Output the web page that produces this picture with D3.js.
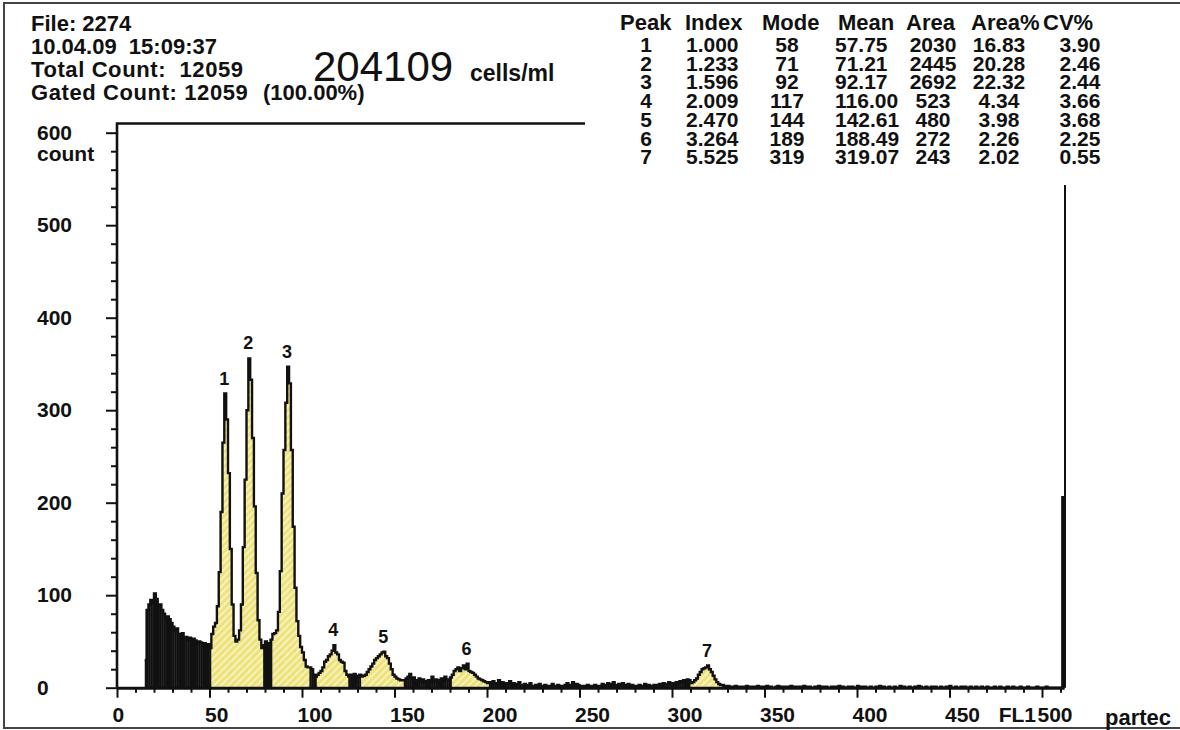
<!DOCTYPE html>
<html>
<head>
<meta charset="utf-8">
<script src="https://cdn.jsdelivr.net/npm/d3@7"></script>
<style>
  body { margin: 0; background: #fff; }
  text { font-family: "Liberation Sans", Arial, sans-serif; font-weight: bold; fill: #111; white-space: pre; }
</style>
</head>
<body>
<svg id="chart" width="1180" height="730"></svg>
<script>
// histogram counts per channel, starting at channel 15 (channels 0-14 are empty)
const firstChannel = 15;
const counts = [
  // 15-50 debris
  30, 84, 90, 95, 92, 102, 96, 88, 90, 84, 80, 75, 77, 74, 70, 66, 62, 64, 58, 57,
  59, 54, 55, 52, 54, 50, 53, 51, 48, 50, 49, 46, 48, 45, 47, 43,
  // 51-78 peaks 1 + 2
  58, 66, 70, 88, 125, 190, 265, 318, 290, 232, 150, 90, 56, 50, 52, 62, 90, 152, 225, 300,
  356, 333, 270, 196, 124, 73, 52, 43,
  // 79-83
  46, 50, 44, 48, 52,
  // 84-103 peak 3
  58, 59, 62, 82, 126, 210, 257, 308, 347, 329, 257, 174, 108, 72, 56, 44, 38, 30, 23, 22,
  // 104-107
  22, 20, 14, 12,
  // 108-124 peak 4
  14, 16, 18, 22, 28, 30, 34, 36, 40, 46, 38, 36, 30, 28, 27, 18, 14,
  // 125-131
  12, 14, 10, 15, 13, 11, 14,
  // 132-154 peak 5
  12, 13, 14, 17, 20, 23, 26, 30, 32, 34, 36, 38, 39, 34, 32, 26, 20, 14, 12, 10, 9, 8, 8,
  // 155-180
  8, 10, 12, 15, 9, 11, 8, 7, 10, 6, 9, 7, 5, 8, 6, 12, 7, 9, 6, 8, 10, 7, 12, 9, 8, 11,
  // 181-200 peak 6
  14, 18, 20, 22, 18, 21, 24, 20, 26, 18, 17, 16, 14, 12, 10, 9, 8, 7, 6, 5,
  // 201-309
  6, 4, 7, 5, 3, 8, 4, 6, 3, 5,
  4, 7, 2, 5, 3, 4, 6, 2, 3, 4,
  2, 3, 5, 2, 1, 3, 2, 4, 1, 2,
  3, 1, 2, 2, 4, 1, 2, 3, 1, 2,
  2, 3, 5, 2, 3, 6, 2, 4, 3, 2,
  1, 2, 2, 3, 1, 2, 1, 3, 2, 1,
  2, 4, 2, 3, 5, 2, 4, 6, 3, 2,
  4, 3, 5, 2, 3, 4, 2, 3, 1, 2,
  2, 3, 1, 2, 4, 2, 3, 1, 2, 3,
  3, 2, 4, 3, 5, 3, 4, 6, 5, 4,
  5, 6, 4, 7, 6, 8, 7, 9, 8,
  // 310-326 peak 7
  5, 6, 8, 10, 14, 17, 20, 21, 22, 24, 20, 17, 13, 9, 6, 4, 3,
  // 327-510
  3, 2, 1, 2, 1, 0, 1, 2, 1, 0, 1, 1, 0, 2, 1, 0, 1, 0, 1, 2,
  0, 1, 0, 1, 2, 0, 1, 0, 0, 1, 2, 1, 0, 1, 0, 1, 0, 2, 1, 0,
  1, 0, 1, 0, 2, 1, 0, 1, 0, 0, 1, 0, 2, 0, 1, 0, 1, 0, 0, 1,
  0, 1, 0, 2, 0, 1, 0, 0, 1, 0, 1, 0, 0, 2, 0, 1, 0, 1, 0, 0,
  1, 0, 0, 1, 0, 2, 0, 1, 0, 0, 1, 0, 0, 1, 0, 0, 2, 0, 1, 0,
  0, 1, 0, 0, 1, 0, 2, 1, 0, 0, 1, 0, 0, 1, 0, 1, 0, 0, 1, 0,
  0, 1, 0, 2, 0, 0, 1, 0, 0, 1, 0, 1, 0, 0, 1, 0, 0, 1, 0, 0,
  1, 0, 0, 1, 0, 0, 0, 1, 0, 0, 1, 0, 0, 0, 1, 0, 0, 1, 0, 0,
  0, 1, 0, 0, 0, 1, 0, 0, 0, 0, 1, 0, 0, 0, 0, 1, 0, 0, 0, 0, 0, 0, 0, 0,
  // 511 overflow
  206
];

// gated peak ranges (channels)
const gates = [[51, 78], [84, 103], [108, 124], [132, 154], [181, 200], [310, 326]];
const peakGate = [0, 0, 1, 2, 3, 4, 5];   // which gate each peak sits in

// peak table
const peakIds = [1, 2, 3, 4, 5, 6, 7];
const peakIndex = ["1.000", "1.233", "1.596", "2.009", "2.470", "3.264", "5.525"];
const peakMode = [58, 71, 92, 117, 144, 189, 319];
const peakMean = ["57.75", "71.21", "92.17", "116.00", "142.61", "188.49", "319.07"];
const peakArea = [2030, 2445, 2692, 523, 480, 272, 243];
const peakAreaPct = ["16.83", "20.28", "22.32", "4.34", "3.98", "2.26", "2.02"];
const peakCV = ["3.90", "2.46", "2.44", "3.66", "3.68", "2.25", "0.55"];

const infoLines = ["File: 2274", "10.04.09  15:09:37", "Total Count:  12059", "Gated Count: 12059"];

const xMajor = d3.range(0, 501, 50);
const xMinor = d3.range(0, 511, 10).filter(d => d % 50 != 0);
const yMajor = d3.range(0, 601, 100);
const yMinor = d3.range(0, 601, 20).filter(d => d % 100 != 0);

var svg = d3.select("#chart");

var x = d3.scaleLinear().domain([0, 512]).range([117, 1064.2]);
var y = d3.scaleLinear().domain([0, 600]).range([687.7, 132.7]);

var defs = svg.append("defs");
var pat = defs.append("pattern")
    .attr("id", "hatch")
    .attr("width", 5).attr("height", 5)
    .attr("patternUnits", "userSpaceOnUse")
    .attr("patternTransform", "rotate(45)");
pat.append("rect").attr("width", 5).attr("height", 5).attr("fill", "#ede27a");
pat.append("line").attr("x1", 1).attr("y1", 0).attr("x2", 1).attr("y2", 5)
    .attr("stroke", "#faf5c8").attr("stroke-width", 1.6);

// page border
svg.append("rect")
    .attr("x", 4).attr("y", 3).attr("width", 1190).attr("height", 725)
    .attr("fill", "none").attr("stroke", "#444").attr("stroke-width", 2);

var bins = counts.map((v, i) => ({ c: firstChannel + i, v: v }));
function inGate(c) {
  return gates.some(g => c >= g[0] && c <= g[1]);
}

// filled bars
svg.append("g")
  .selectAll("rect")
  .data(bins)
  .join("rect")
  .attr("x", d => x(d.c))
  .attr("width", d => x(d.c + 1) - x(d.c) + 0.4)
  .attr("y", d => y(d.v))
  .attr("height", d => y(0) - y(d.v))
  .attr("fill", d => inGate(d.c) ? "url(#hatch)" : "#111");

// step outline
var outline = bins.map(d => [d.c, d.v]);
outline.push([512, counts[counts.length - 1]]);
svg.append("path")
  .datum(outline)
  .attr("fill", "none")
  .attr("stroke", "#111")
  .attr("stroke-width", 2.4)
  .attr("d", d3.line().x(d => x(d[0])).y(d => y(d[1])).curve(d3.curveStepAfter));

// frame
svg.append("path")
  .attr("d", `M${x(0)},${y(0)}V123.5H585`)
  .attr("fill", "none").attr("stroke", "#111").attr("stroke-width", 2.6);
svg.append("path")
  .attr("d", `M${x(512) + 0.8},185V${y(0)}`)
  .attr("fill", "none").attr("stroke", "#111").attr("stroke-width", 2);

// x axis
var gx = svg.append("g").attr("transform", `translate(0,${y(0)})`).style("color", "#111");
gx.call(d3.axisBottom(x).tickValues(xMajor).tickSize(10).tickSizeOuter(0));
gx.select(".domain").attr("stroke-width", 3);
gx.selectAll(".tick line").attr("stroke-width", 2);
gx.selectAll(".tick text")
  .attr("text-anchor", "start")
  .attr("x", -5).attr("y", 34).attr("dy", null)
  .style("font-size", "21px").style("font-family", null);
var gxm = svg.append("g").attr("transform", `translate(0,${y(0)})`).style("color", "#111");
gxm.call(d3.axisBottom(x).tickValues(xMinor).tickSize(5).tickFormat(""));
gxm.select(".domain").remove();
gxm.selectAll(".tick line").attr("stroke-width", 2);

svg.append("text").attr("x", x(500) - 6).attr("y", y(0) + 34)
  .attr("text-anchor", "end").style("font-size", "21px").text("FL1");
svg.append("text").attr("x", 1105).attr("y", 725)
  .style("font-size", "22px").text("partec");

// y axis
var gy = svg.append("g").attr("transform", `translate(${x(0)},0)`).style("color", "#111");
gy.call(d3.axisLeft(y).tickValues(yMajor).tickSize(11).tickSizeOuter(0));
gy.select(".domain").remove();
gy.selectAll(".tick line").attr("stroke-width", 2);
gy.selectAll(".tick text")
  .attr("text-anchor", "start")
  .attr("x", 37 - x(0))
  .style("font-size", "21px").style("font-family", null);
var gym = svg.append("g").attr("transform", `translate(${x(0)},0)`).style("color", "#111");
gym.call(d3.axisLeft(y).tickValues(yMinor).tickSize(6).tickFormat(""));
gym.select(".domain").remove();
gym.selectAll(".tick line").attr("stroke-width", 2);

svg.append("text").attr("x", 37).attr("y", y(600) + 28)
  .style("font-size", "21px").text("count");

// peak labels
svg.append("g")
  .selectAll("text")
  .data(peakIds)
  .join("text")
  .attr("x", (d, i) => x(peakMode[i] + 0.5) - 1)
  .attr("y", (d, i) => {
    var g = gates[peakGate[i]];
    var top = d3.max(bins.filter(b => Math.abs(b.c - peakMode[i]) <= 1 && b.c >= g[0] && b.c <= g[1]), b => b.v);
    return y(top) - 9;
  })
  .attr("text-anchor", "middle")
  .style("font-size", "18px")
  .text(d => d);

// header info
svg.append("g")
  .selectAll("text")
  .data(infoLines)
  .join("text")
  .attr("x", 31)
  .attr("y", (d, i) => 31 + i * 23)
  .style("font-size", "22px")
  .style("letter-spacing", (d, i) => i >= 2 ? "0.6px" : null)
  .text(d => d);
svg.append("text").attr("x", 263).attr("y", 100).style("font-size", "22px").text("(100.00%)");
svg.append("text").attr("x", 313).attr("y", 81)
  .style("font-size", "42px").style("font-weight", "normal").text("204109");
svg.append("text").attr("x", 470).attr("y", 81).style("font-size", "23px").text("cells/ml");

// peak table
var cols = [
  { head: "Peak", hx: 620, vx: 646, va: "middle", vals: peakIds },
  { head: "Index", hx: 685, vx: 686, va: "start", vals: peakIndex },
  { head: "Mode", hx: 762, vx: 787, va: "middle", vals: peakMode },
  { head: "Mean", hx: 838, vx: 835, va: "start", vals: peakMean },
  { head: "Area", hx: 906, vx: 933, va: "middle", vals: peakArea },
  { head: "Area%", hx: 971, vx: 999, va: "middle", vals: peakAreaPct },
  { head: "CV%", hx: 1043, vx: 1080, va: "middle", vals: peakCV }
];
var tbl = svg.append("g").style("font-size", "22px");
cols.forEach(col => {
  tbl.append("text").attr("x", col.hx).attr("y", 30).text(col.head);
  tbl.selectAll(null)
    .data(col.vals)
    .join("text")
    .attr("x", col.vx)
    .attr("y", (d, i) => 52 + i * 18.7)
    .attr("text-anchor", col.va)
    .style("font-size", "21px")
    .text(d => d);
});
</script>
</body>
</html>
